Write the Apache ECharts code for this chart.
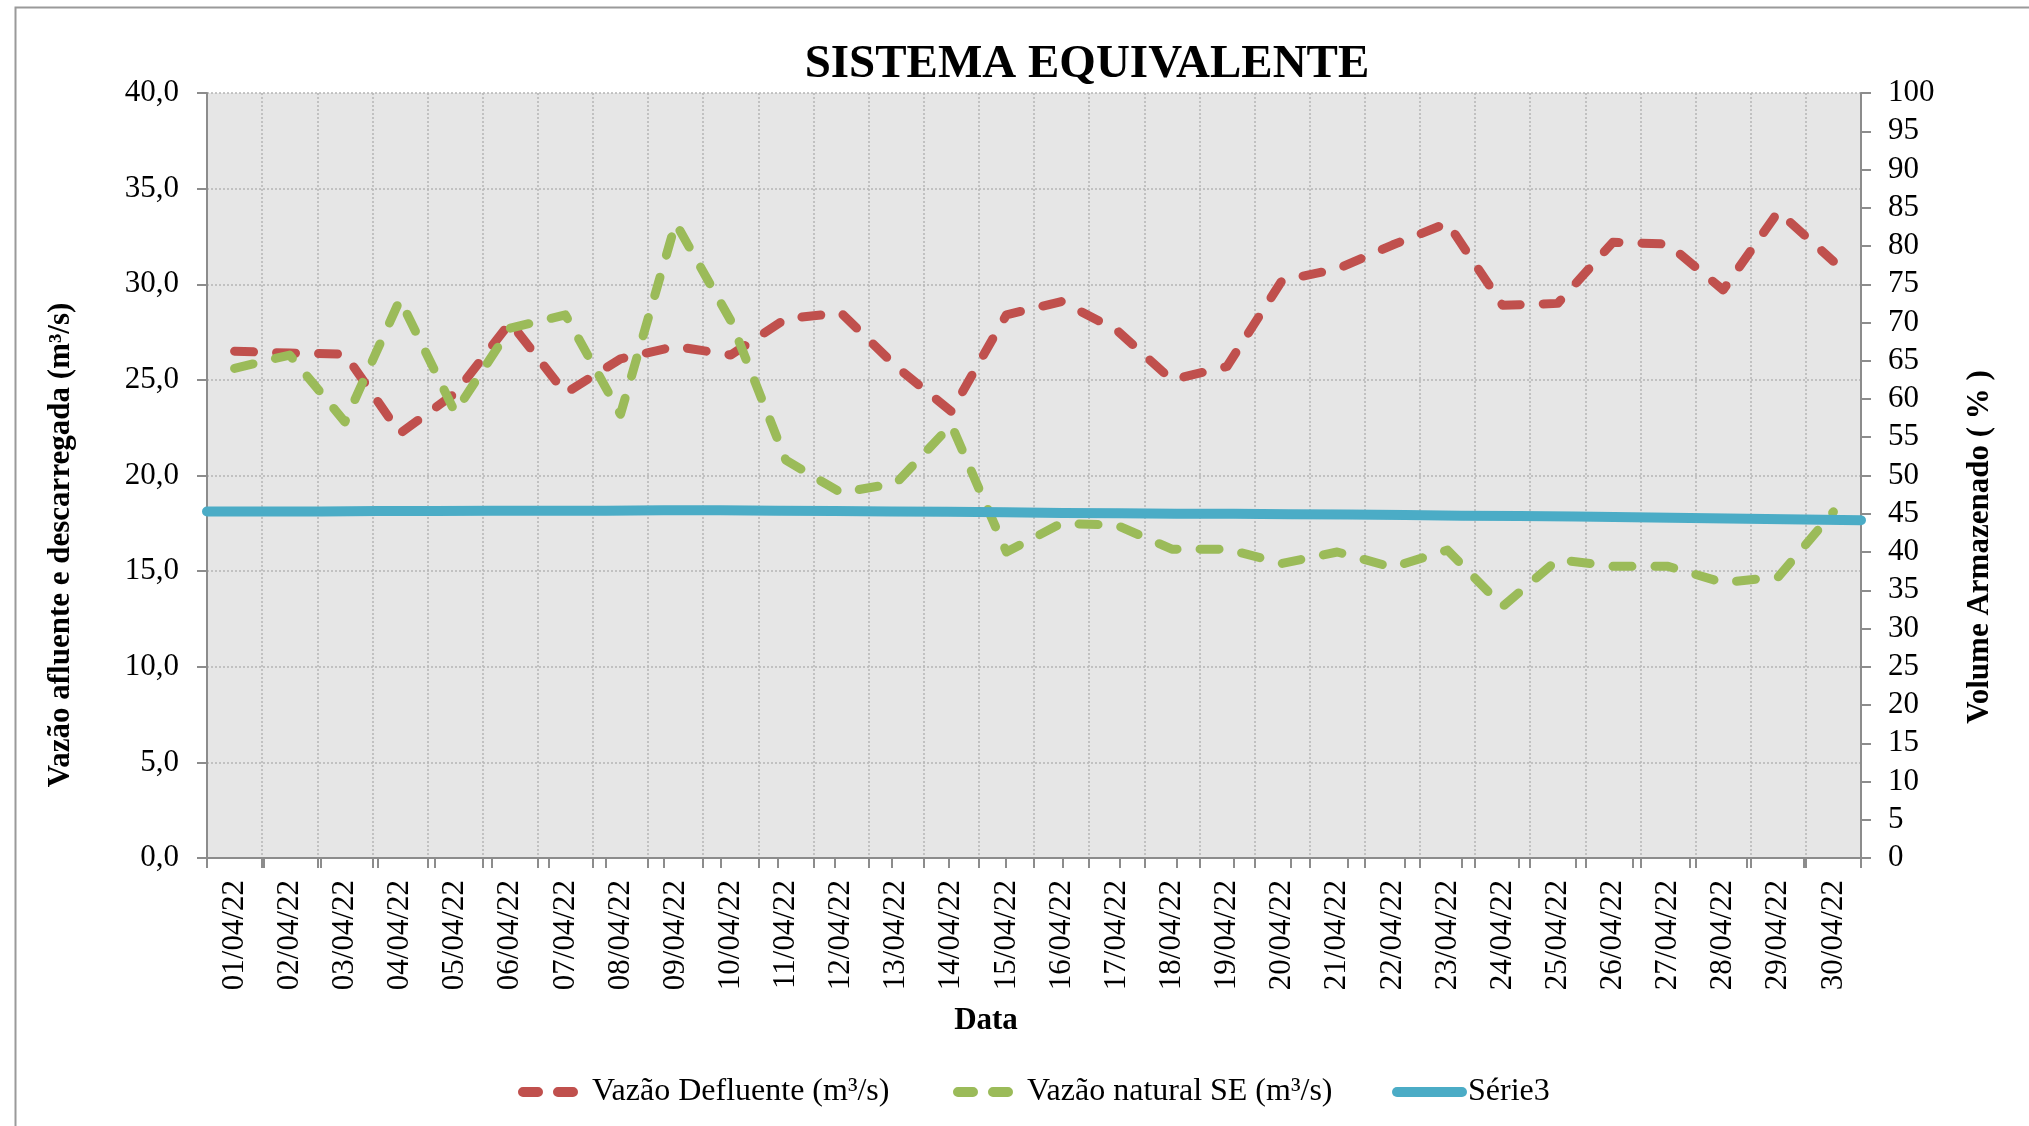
<!DOCTYPE html>
<html>
<head>
<meta charset="utf-8">
<script src="https://cdn.jsdelivr.net/npm/echarts@6/dist/echarts.min.js"></script>
<style>
html,body{margin:0;padding:0;background:#fff;}
#chart{width:2029px;height:1126px;}
</style>
</head>
<body>
<div id="chart"></div>
<script>
const dates = ["01/04/22","02/04/22","03/04/22","04/04/22","05/04/22","06/04/22","07/04/22","08/04/22","09/04/22","10/04/22",
"11/04/22","12/04/22","13/04/22","14/04/22","15/04/22","16/04/22","17/04/22","18/04/22","19/04/22","20/04/22",
"21/04/22","22/04/22","23/04/22","24/04/22","25/04/22","26/04/22","27/04/22","28/04/22","29/04/22","30/04/22"];
const vazaoDefluente = [26.5,26.4,26.35,22.2,24.3,28.0,24.3,26.1,26.75,26.3,28.2,28.5,25.7,23.35,28.4,29.1,27.6,25.0,25.7,30.2,
30.8,32.05,33.2,28.9,29.0,32.2,32.1,29.7,33.8,31.2];
const vazaoNatural = [25.6,26.3,22.8,29.2,23.3,27.7,28.4,23.2,33.2,28.1,20.8,19.1,19.6,22.65,16.0,17.5,17.4,16.15,16.15,15.4,
16.0,15.2,16.1,13.15,15.6,15.25,15.25,14.4,14.7,18.1];
const serie3 = [45.3,45.3,45.3,45.35,45.35,45.4,45.4,45.4,45.45,45.45,45.4,45.35,45.3,45.25,45.2,45.1,45.05,45.0,45.0,44.95,
44.9,44.85,44.75,44.7,44.65,44.55,44.45,44.35,44.25,44.15];
const leftTicks = {min:0,max:40,interval:5};
const rightTicks = {min:0,max:100,interval:5};

const FONT = '"Liberation Serif","Times New Roman",serif';
const chart = echarts.init(document.getElementById('chart'), null, {renderer:'canvas'});
const axisGrey = '#8c8c8c';
const gridStyle = {show:true, lineStyle:{color:'#b5b5b5', type:[2,2], width:1.5}};
const dashIcon = 'path://M5,0H20A5,5,0,0,1,20,10H5A5,5,0,0,1,5,0Z M40,0H55A5,5,0,0,1,55,10H40A5,5,0,0,1,40,0Z';
const solidIcon = 'path://M5,0H70A5,5,0,0,1,70,10H5A5,5,0,0,1,5,0Z';

chart.setOption({
  backgroundColor:'#ffffff',
  animation:false,
  title:{
    text:'SISTEMA EQUIVALENTE',
    left:1082, top:36, textAlign:'center',
    textStyle:{fontFamily:FONT, fontSize:47, fontWeight:'bold', color:'#000'}
  },
  grid:{left:207, right:168, top:93, bottom:268, containLabel:false, show:true, backgroundColor:'#e6e6e6', borderWidth:0},
  legend:[
    {data:[{name:'Vazão Defluente (m³/s)', icon:dashIcon}], left:513, top:1071, itemWidth:60, itemHeight:10,
     textStyle:{fontFamily:FONT, fontSize:32, color:'#000', padding:[0,0,0,9]}},
    {data:[{name:'Vazão natural SE (m³/s)', icon:dashIcon}], left:948, top:1071, itemWidth:60, itemHeight:10,
     textStyle:{fontFamily:FONT, fontSize:32, color:'#000', padding:[0,0,0,9]}},
    {data:[{name:'Série3', icon:solidIcon}], left:1387, top:1071, itemWidth:75, itemHeight:10,
     textStyle:{fontFamily:FONT, fontSize:32, color:'#000', padding:[0,0,0,-4]}}
  ],
  xAxis:[
    {type:'category', data:dates, boundaryGap:true, position:'bottom', offset:10,
     axisLine:{show:true, lineStyle:{color:axisGrey, width:2}},
     axisTick:{show:true, length:10, alignWithLabel:false, lineStyle:{color:axisGrey, width:2}},
     axisLabel:{rotate:90, margin:12, fontFamily:FONT, fontSize:31, color:'#000', interval:0},
     splitLine:Object.assign({interval:0}, gridStyle)},
    {type:'category', data:dates, boundaryGap:false, position:'bottom', offset:0,
     axisLine:{show:true, lineStyle:{color:axisGrey, width:2}},
     axisTick:{show:true, length:10, interval:0, lineStyle:{color:axisGrey, width:2}},
     axisLabel:{show:false}, splitLine:{show:false}}
  ],
  yAxis:[
    {type:'value', min:leftTicks.min, max:leftTicks.max, interval:leftTicks.interval, position:'left',
     axisLine:{show:true, lineStyle:{color:axisGrey, width:2}},
     axisTick:{show:true, length:10, lineStyle:{color:axisGrey, width:2}},
     axisLabel:{margin:28, fontFamily:FONT, fontSize:31, color:'#000',
       formatter:v=>v.toFixed(1).replace('.',',')},
     splitLine:gridStyle},
    {type:'value', min:rightTicks.min, max:rightTicks.max, interval:rightTicks.interval, position:'right',
     axisLine:{show:true, lineStyle:{color:axisGrey, width:2}},
     axisTick:{show:true, length:10, lineStyle:{color:axisGrey, width:2}},
     axisLabel:{margin:27, fontFamily:FONT, fontSize:31, color:'#000'},
     splitLine:{show:false}}
  ],
  series:[
    {name:'Vazão Defluente (m³/s)', type:'line', data:vazaoDefluente, xAxisIndex:0, yAxisIndex:0,
     symbol:'none', color:'#c0504d',
     lineStyle:{color:'#c0504d', width:9, type:[19,23], cap:'round', join:'round'}},
    {name:'Vazão natural SE (m³/s)', type:'line', data:vazaoNatural, xAxisIndex:0, yAxisIndex:0,
     symbol:'none', color:'#9bbb59',
     lineStyle:{color:'#9bbb59', width:9, type:[19,23], cap:'round', join:'round'}},
    {name:'Série3', type:'line', data:serie3, xAxisIndex:1, yAxisIndex:1,
     symbol:'none', color:'#4bacc6',
     lineStyle:{color:'#4bacc6', width:10, cap:'round', join:'round'}}
  ],
  graphic:[
    {type:'rect', left:13, top:5, shape:{width:2100, height:1200}, silent:true, z:-10,
     style:{fill:'none', stroke:'#9a9a9a', lineWidth:2}},
    {type:'text', x:61, y:545, rotation:Math.PI/2,
     style:{text:'Vazão afluente e descarregada (m³/s)', font:'bold 31px '+FONT, fill:'#000', textAlign:'center', textVerticalAlign:'middle'}},
    {type:'text', x:1980, y:547, rotation:Math.PI/2,
     style:{text:'Volume Armazenado ( % )', font:'bold 31px '+FONT, fill:'#000', textAlign:'center', textVerticalAlign:'middle'}},
    {type:'text', x:986, y:1021,
     style:{text:'Data', font:'bold 31px '+FONT, fill:'#000', textAlign:'center', textVerticalAlign:'middle'}}
  ]
});
</script>
</body>
</html>
